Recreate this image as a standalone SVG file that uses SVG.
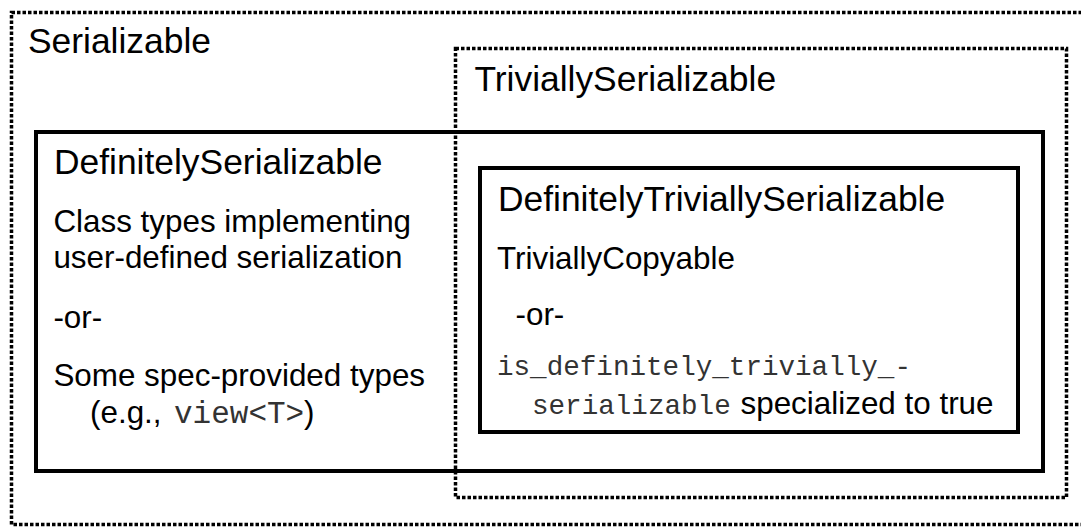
<svg xmlns="http://www.w3.org/2000/svg" width="1081" height="527" viewBox="0 0 1081 527">
  <style>
    .dotted { fill: none; stroke: #000; stroke-width: 3.5; stroke-dasharray: 3.5 2; }
    .solid { fill: none; stroke: #000; stroke-width: 4; }
    .head { font-family: "Liberation Sans", Arial, sans-serif; font-size: 35.4px; fill: #000; }
    .body { font-family: "Liberation Sans", Arial, sans-serif; font-size: 31.4px; fill: #000; }
    .monoL { font-family: "Liberation Mono", "Courier New", monospace; font-size: 31px; fill: #333; }
    .monoR { font-family: "Liberation Mono", "Courier New", monospace; font-size: 27.6px; fill: #333; }
  </style>
  <rect width="1081" height="527" fill="#fff"/>

  <g id="serializable">
    <rect class="dotted" x="11.5" y="12.5" width="1075" height="512"/>
    <text class="head" x="28" y="53">Serializable</text>
  </g>

  <g id="definitely-serializable">
    <rect class="solid" x="36" y="132" width="1007" height="339"/>
    <text class="head" x="54" y="174">DefinitelySerializable</text>
    <text class="body" x="53.4" y="232">Class types implementing</text>
    <text class="body" x="53.4" y="268">user-defined serialization</text>
    <text class="body" x="53.4" y="328">-or-</text>
    <text class="body" x="53.4" y="386">Some spec-provided types</text>
    <text class="body" x="90" y="423">(e.g., <tspan class="monoL" x="174">view&lt;T&gt;</tspan><tspan x="304">)</tspan></text>
  </g>

  <g id="trivially-serializable">
    <rect class="dotted" x="455.5" y="48.5" width="611" height="449"/>
    <text class="head" x="474.5" y="90.5">TriviallySerializable</text>
  </g>

  <g id="definitely-trivially-serializable">
    <rect class="solid" x="480" y="168" width="538" height="264"/>
    <text class="head" x="498" y="211">DefinitelyTriviallySerializable</text>
    <text class="body" x="497" y="269">TriviallyCopyable</text>
    <text class="body" x="515.5" y="325">-or-</text>
    <text class="monoR" x="497" y="375">is_definitely_trivially_-</text>
    <text class="monoR" x="532" y="414">serializable</text>
    <text class="body" x="740.5" y="414">specialized to true</text>
  </g>

  <g id="connectors"/>
</svg>
